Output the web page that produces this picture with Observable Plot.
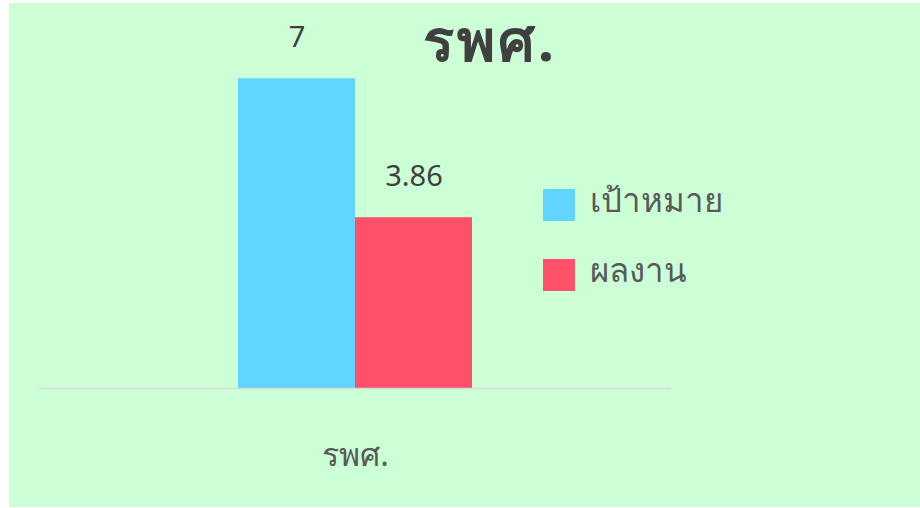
<!DOCTYPE html>
<html><head><meta charset="utf-8">
<script src="https://cdn.jsdelivr.net/npm/d3@7"></script>
<script src="https://cdn.jsdelivr.net/npm/@observablehq/plot@0.6"></script>
<style>
html,body{margin:0;padding:0;background:#fff;}
#wrap{position:relative;width:920px;height:508px;overflow:hidden;}
#bg{position:absolute;left:9px;top:3px;width:911px;height:504px;background:#CCFFD5;}
#chart{position:absolute;left:0;top:0;}
#title{position:absolute;left:340px;width:300px;top:3px;text-align:center;font-family:"Noto Sans",sans-serif;font-weight:bold;font-size:58px;line-height:72px;letter-spacing:3px;color:#404040;white-space:nowrap;}
#legend{position:absolute;left:543px;top:189px;font-family:"Noto Sans",sans-serif;font-size:33px;color:#595959;}
.item{display:flex;align-items:center;height:32px;margin-bottom:38px;}
.sw{width:32px;height:32px;margin-right:15px;flex:none;}
.item span{position:relative;top:-5px;white-space:nowrap;}
</style></head>
<body><div id="wrap"><div id="bg"></div><div id="chart"></div><div id="title"></div><div id="legend"></div></div>
<script>
const title = "รพศ.";
const categories = ["รพศ."];
const series = ["เป้าหมาย", "ผลงาน"];
const values = [7, 3.86];
const colors = ["#61D4FF", "#FF5069"];

const data = series.map((s, i) => ({category: categories[0], series: s, value: values[i]}));

document.getElementById("title").textContent = title;
const legend = document.getElementById("legend");
series.forEach((s, i) => {
  const it = document.createElement("div"); it.className = "item";
  const sw = document.createElement("div"); sw.className = "sw"; sw.style.background = colors[i];
  const tx = document.createElement("span"); tx.textContent = s;
  it.appendChild(sw); it.appendChild(tx); legend.appendChild(it);
});

const chart = Plot.plot({
  width: 920, height: 508,
  marginLeft: 39, marginRight: 249, marginTop: 34, marginBottom: 120,
  style: {background: "transparent", fontFamily: "'Noto Sans', sans-serif"},
  fx: {domain: categories, padding: 0, label: null},
  x: {domain: series, axis: null, paddingInner: 0, paddingOuter: 1.7},
  y: {domain: [0, 8], axis: null},
  color: {domain: series, range: colors},
  marks: [
    Plot.barY(data, {fx: "category", x: "series", y: "value", fill: "series"}),
    Plot.text(data, {fx: "category", x: "series", y: "value", text: d => String(d.value), lineAnchor: "bottom", dy: -32, fontSize: 29, fill: "#404040"}),
    Plot.ruleY([0], {stroke: "#D9D9D9", strokeWidth: 1.5}),
    Plot.axisFx({anchor: "bottom", tickSize: 0, tickPadding: 55, fontSize: 32, color: "#595959", label: null})
  ]
});
document.getElementById("chart").appendChild(chart);
</script></body></html>
